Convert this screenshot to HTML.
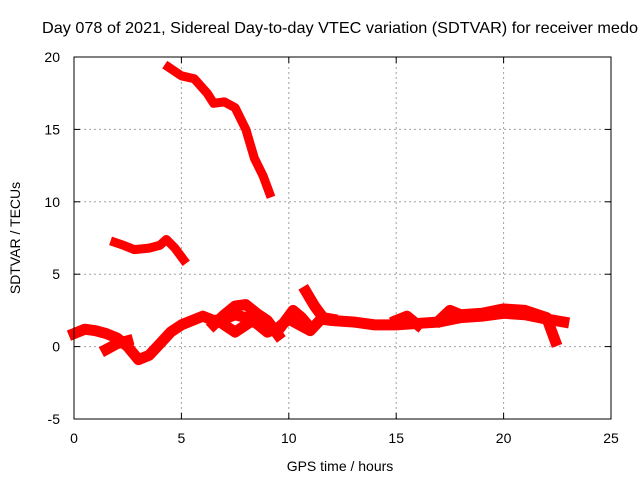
<!DOCTYPE html>
<html><head><meta charset="utf-8"><style>
body{margin:0;background:#fff}
svg{display:block;font-family:"Liberation Sans",sans-serif;font-size:14px}
</style></head><body>
<svg id="chart" width="640" height="480" viewBox="0 0 640 480">
<text x="42" y="33" font-size="16" textLength="596" lengthAdjust="spacingAndGlyphs">Day 078 of 2021, Sidereal Day-to-day VTEC variation (SDTVAR) for receiver medo</text>
<g id="grid"></g>
<g id="ticks"></g>
<g id="series"></g>
<rect x="74" y="57" width="537" height="362" fill="none" stroke="#000" stroke-width="1"/>
<text x="340" y="471" text-anchor="middle">GPS time / hours</text>
<text transform="translate(20,238) rotate(-90)" text-anchor="middle">SDTVAR / TECUs</text>
</svg>
<script>
const xTicks=[0,5,10,15,20,25];
const yTicks=[-5,0,5,10,15,20];
const trackA=[[4.4,19.3],[5,18.7],[5.6,18.5],[6.2,17.5],[6.5,16.8],[7,16.9],[7.5,16.5],[8,15],[8.4,13],[8.8,11.8],[9.1,10.6]];
const trackB=[[1.9,7.2],[2.3,7],[2.8,6.7],[3.5,6.8],[4,7],[4.3,7.4],[4.7,6.8],[5.1,6]];
const trackC=[[0,0.9],[0.5,1.2],[1,1.1],[1.5,0.9],[2,0.6],[2.5,0],[3,-0.9],[3.5,-0.6],[4,0.2],[4.5,1],[5,1.5],[5.5,1.8],[6,2.1],[6.5,1.8],[7,1.9],[7.5,2.2],[8,2.0],[8.5,1.6],[9,1.0],[9.5,1.3],[10,1.9],[10.5,1.5],[11,1.1],[11.5,1.9],[12,1.8],[13,1.7],[14,1.5],[15,1.5],[16,1.6],[17,1.7],[18,2.0],[19,2.1],[20,2.3],[21,2.2],[22,1.9],[22.8,1.7]];
const trackD=[[1.5,-0.2],[2,0.2],[2.5,0.4]];
const trackE=[[6.5,1.5],[7,2.2],[7.5,2.8],[8,2.9],[8.5,2.3],[9,1.8],[9.5,0.8]];
const trackF=[[7,1.5],[7.5,1.0],[8,1.5],[8.5,2.0]];
const trackG=[[10.8,3.8],[11.2,2.8],[11.6,2.0],[12,1.9]];
const trackH=[[9.7,1.5],[10.2,2.5],[10.6,2.0],[11,1.3]];
const trackI=[[15,1.8],[15.5,2.1],[16,1.5]];
const trackJ=[[17,1.8],[17.5,2.5],[18,2.2],[19,2.3],[20,2.6],[21,2.5],[22,2.0],[22.4,0.4]];
const tracks=[trackA,trackB,trackC,trackD,trackE,trackF,trackG,trackH,trackI,trackJ];
const NS="http://www.w3.org/2000/svg";
const X0=74,X1=611,Y0=419,Y1=57;
function sx(v){return X0+(v-0)/(25-0)*(X1-X0);}
function sy(v){return Y0-(v+5)/(25)*(Y0-Y1);}
const grid=document.getElementById('grid'),ticks=document.getElementById('ticks'),series=document.getElementById('series');
function mk(tag,attrs,parent){const e=document.createElementNS(NS,tag);for(const k in attrs)e.setAttribute(k,attrs[k]);parent.appendChild(e);return e;}
xTicks.forEach(t=>{
  const x=sx(t);
  if(t>0&&t<25){const g=mk('line',{x1:x,x2:x,y1:Y1,y2:Y0,stroke:'#a0a0a0','stroke-dasharray':'2,3'},grid);
  
  }
  mk('line',{x1:x,x2:x,y1:Y0,y2:Y0-6,stroke:'#000'},ticks);
  mk('line',{x1:x,x2:x,y1:Y1,y2:Y1+6,stroke:'#000'},ticks);
  const l=mk('text',{x:x,y:Y0+24,'text-anchor':'middle'},ticks);l.textContent=t;
  
  
});
yTicks.forEach(t=>{
  const y=sy(t);
  if(t>-5&&t<20){const g=mk('line',{x1:X0,x2:X1,y1:y,y2:y,stroke:'#a0a0a0','stroke-dasharray':'2,3'},grid);
  
  }
  mk('line',{x1:X0,x2:X0+6,y1:y,y2:y,stroke:'#000'},ticks);
  mk('line',{x1:X1,x2:X1-6,y1:y,y2:y,stroke:'#000'},ticks);
  const l=mk('text',{x:X0-14,y:y+5,'text-anchor':'end'},ticks);l.textContent=t;
  
  
});
tracks.forEach((tr,i)=>{
  const p=mk('polyline',{points:tr.map(d=>sx(d[0])+','+sy(d[1])).join(' '),fill:'none',stroke:'#ff0000','stroke-width':i>=2?11:9,'stroke-linejoin':'round','stroke-linecap':'square'},series);
  
  
});
</script>
</body></html>
